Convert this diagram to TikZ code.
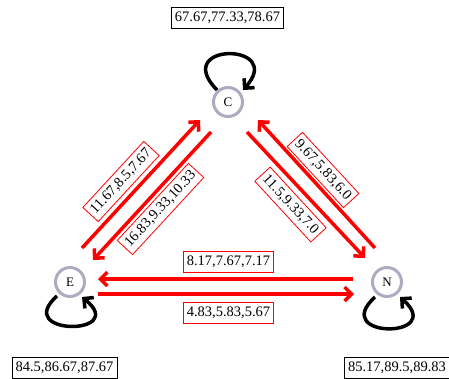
\documentclass[tikz,border=0pt]{standalone}
\usepackage{fontspec}
\setmainfont{Liberation Serif}
\usetikzlibrary{arrows.meta,calc}
\definecolor{ringgray}{RGB}{172,172,192}
\definecolor{pured}{RGB}{255,0,0}
\begin{document}
\begin{tikzpicture}[x=1pt,y=-1pt,
  state/.style={circle,draw=ringgray,line width=3pt,minimum size=29pt,inner sep=0pt,fill=white,font=\fontsize{13}{14}\selectfont},
  valbox/.style={draw=black,line width=0.8pt,fill=white,inner xsep=3.5pt,inner ysep=4.5pt,font=\fontsize{14.5}{16}\selectfont},
  edgebox/.style={draw=pured,line width=0.8pt,fill=white,inner xsep=3.5pt,inner ysep=4.5pt,font=\fontsize{14.5}{16}\selectfont},
  flow/.style={draw=pured,line width=3.5pt,-{Straight Barb[length=7pt,width=14pt]}},
  selfloop/.style={draw=black,line width=3.5pt,-{Straight Barb[length=7pt,width=14pt]}}
]
\useasboundingbox (0,0) rectangle (449,378);

\node[state] (C) at (228,102) {C};
\node[state] (E) at (70,282) {E};
\node[state] (N) at (387,282) {N};

% self loops
\draw[selfloop] ($(C)+(-11,-12)$) .. controls ($(C)+(-58,-60)$) and ($(C)+(58,-60)$) .. ($(C)+(15,-12)$);
\draw[selfloop] ($(E)+(-13,14)$) .. controls ($(E)+(-58,54)$) and ($(E)+(60,54)$) .. ($(E)+(12,15)$);
\draw[selfloop] ($(N)+(-12,15)$) .. controls ($(N)+(-58,57)$) and ($(N)+(60,57)$) .. ($(N)+(13,15)$);

% transitions
\draw[flow] ($(E)+(12,-34)$) -- ($(C)+(-28,18)$);
\draw[flow] ($(C)+(-17,30)$) -- ($(E)+(23,-22)$);
\draw[flow] ($(C)+(19,30)$) -- ($(N)+(-22,-24)$);
\draw[flow] ($(N)+(-12,-34)$) -- ($(C)+(30,18)$);
\draw[flow] ($(N)+(-34,-3)$) -- ($(E)+(28,-3)$);
\draw[flow] ($(E)+(28,12)$) -- ($(N)+(-33,12)$);

% edge labels
\node[edgebox,rotate=47.3] (lEC) at (121,181.5) {11.67,8.5,7.67};
\node[edgebox,rotate=47.3] (lCE) at (160.5,209) {16.83,9.33,10.33};
\node[edgebox,rotate=-47.3] (lNC) at (323,170) {9.67,5.83,6.0};
\node[edgebox,rotate=-47.3] (lCN) at (290.5,204.5) {11.5,9.33,7.0};
\node[edgebox] (lNE) at (228.5,261.5) {8.17,7.67,7.17};
\node[edgebox] (lEN) at (228.5,312.5) {4.83,5.83,5.67};

% state values
\node[valbox] (vC) at (227.5,18) {67.67,77.33,78.67};
\node[valbox] (vE) at (64.5,367.5) {84.5,86.67,87.67};
\node[valbox] (vN) at (397,367.5) {85.17,89.5,89.83};
\end{tikzpicture}
\end{document}
